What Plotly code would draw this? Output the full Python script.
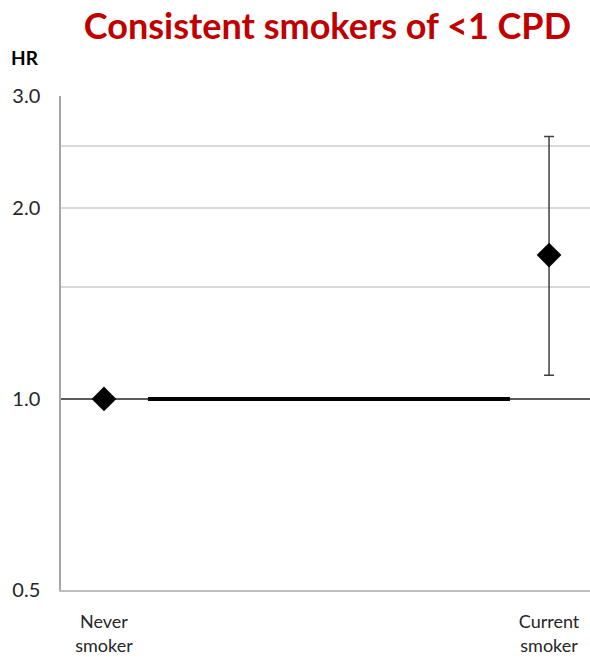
import plotly.graph_objects as go

categories = ["Never<br>smoker", "Current<br>smoker"]
x_pos = [0, 1]
hr = [1.0, 1.685]
ci_upper = [1.0, 2.59]
ci_lower = [1.0, 1.09]
ref_hr = 1.0
tick_vals = [0.5, 1.0, 1.5, 2.0, 2.5, 3.0]
tick_text = ["0.5", "1.0", "", "2.0", "", "3.0"]

err_plus = [u - v for u, v in zip(ci_upper, hr)]
err_minus = [v - l for v, l in zip(hr, ci_lower)]

x_range = [-0.0966, 1.092]
thick_span = [0.099, 0.912]

font_family = "Lato, 'Open Sans', sans-serif"

fig = go.Figure()

# reference line at HR = 1 (thin full-width + thick middle segment)
fig.add_trace(go.Scatter(x=x_range, y=[ref_hr, ref_hr], mode="lines",
                         line=dict(color="#595959", width=2), hoverinfo="skip", showlegend=False))
fig.add_trace(go.Scatter(x=thick_span, y=[ref_hr, ref_hr], mode="lines",
                         line=dict(color="black", width=4), hoverinfo="skip", showlegend=False))

fig.add_trace(go.Scatter(
    x=x_pos, y=hr, mode="markers",
    marker=dict(symbol="diamond", size=19, color="black"),
    error_y=dict(type="data", symmetric=False, array=err_plus, arrayminus=err_minus,
                 color="#404040", thickness=1.5, width=5),
    showlegend=False,
))

fig.update_layout(
    width=590, height=657,
    margin=dict(l=61, r=0, t=96, b=67),
    paper_bgcolor="white", plot_bgcolor="white",
    font=dict(family=font_family, color="#262626"),
    title=dict(text="<b>Consistent smokers of &lt;1 CPD</b>",
               font=dict(size=36, color="#C00000", family=font_family),
               x=0.555, xanchor="center", xref="container",
               y=0.960, yanchor="middle", yref="container", automargin=False),
    xaxis=dict(range=x_range, tickvals=x_pos, ticktext=categories,
               showgrid=False, zeroline=False, showline=True, linecolor="#bfbfbf", linewidth=1.5,
               ticks="outside", ticklen=15, tickcolor="rgba(0,0,0,0)", automargin=False,
               tickfont=dict(size=18, color="#262626")),
    yaxis=dict(type="log", range=[-0.30103, 0.47712], tickvals=tick_vals, ticktext=tick_text,
               showgrid=True, gridcolor="#d9d9d9", gridwidth=1.5, zeroline=False,
               showline=True, linecolor="#a6a6a6", linewidth=1.5,
               ticks="outside", ticklen=15, tickcolor="rgba(0,0,0,0)", automargin=False,
               tickfont=dict(size=20, color="#262626")),
    annotations=[dict(text="<b>HR</b>", xref="paper", yref="paper",
                      x=-0.068, y=1.077, xanchor="center", yanchor="middle",
                      showarrow=False, font=dict(size=19, color="black", family=font_family))],
)

fig.write_html("out.html", config={"displayModeBar": False},
               post_script="document.body.style.margin='0';document.body.style.overflow='hidden';")
